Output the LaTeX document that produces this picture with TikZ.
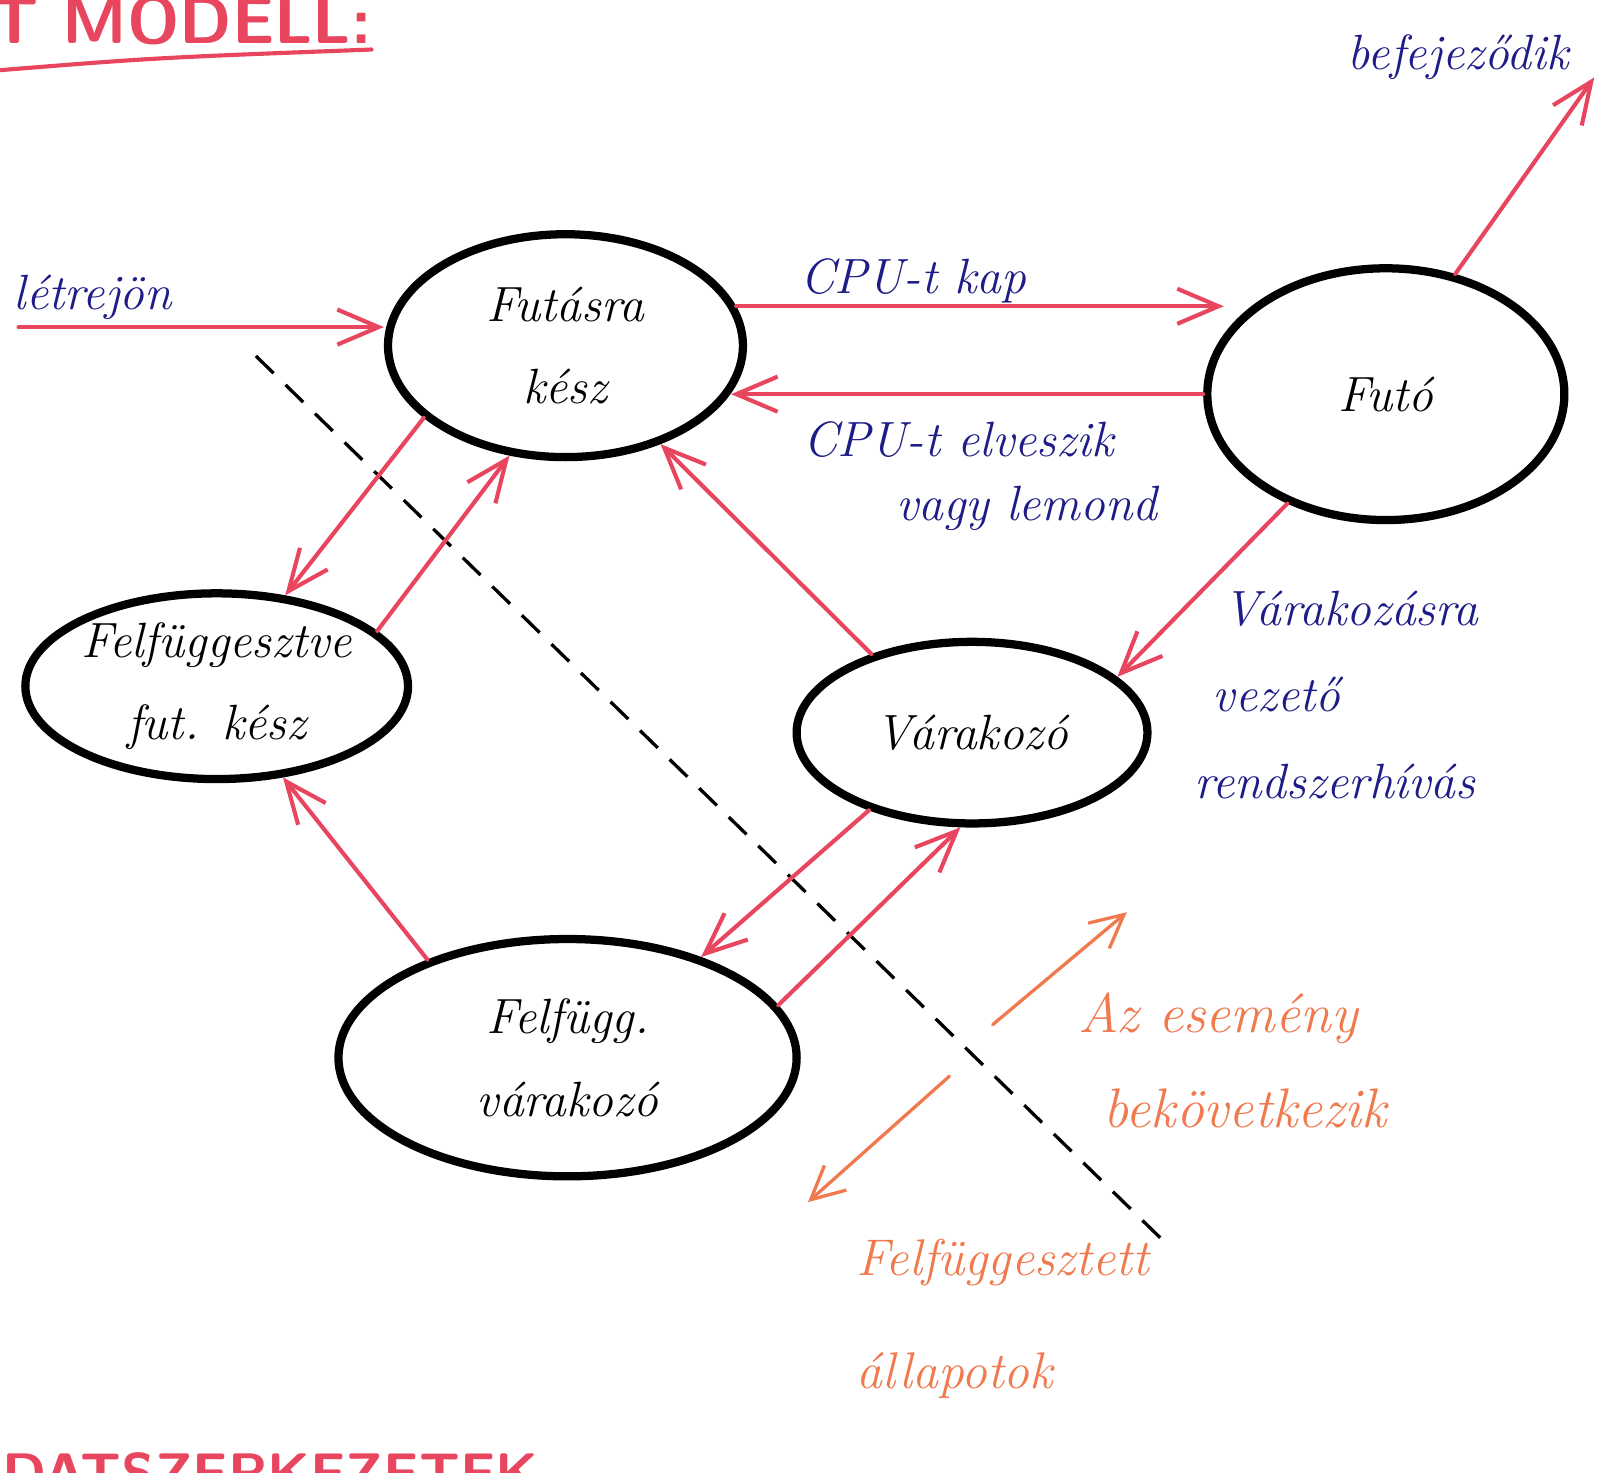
\documentclass[tikz,border=0pt]{standalone}
\usetikzlibrary{shapes.geometric,arrows.meta}
\definecolor{ink}{HTML}{E8465F}
\definecolor{navy}{HTML}{1E1C86}
\definecolor{peach}{HTML}{F07A4E}
\tikzset{
  state/.style={ellipse, draw=black, line width=4pt, inner sep=0pt, align=center,
    font=\fontsize{24}{40}\selectfont\itshape},
  arr/.style={draw=ink, line width=2pt, line cap=round,
    -{Straight Barb[length=20pt,width=17pt]}},
  note/.style={text=navy, inner sep=0pt, align=left,
    font=\fontsize{24}{40}\selectfont\itshape},
  remark/.style={text=peach, inner sep=0pt, align=left,
    font=\fontsize{26}{50}\selectfont\itshape},
  remarkarr/.style={draw=peach, line width=1.6pt, line cap=round,
    -{Straight Barb[length=16pt,width=16pt]}},
  heading/.style={text=ink, inner sep=0pt, font=\fontsize{32}{40}\selectfont\sffamily\bfseries},
  divider/.style={draw=black, line width=1.6pt, dash pattern=on 12pt off 8pt}
}
\begin{document}
\begin{tikzpicture}[x=0.5pt,y=-0.5pt]
\useasboundingbox (0,0) rectangle (1568,1427);

% section headings (the sheet is cropped through both of them)
\node[heading, anchor=base west] (head) at (-10,42) {T MODELL:};
\draw[ink, line width=2pt, line cap=round] (0,68) .. controls (150,56) .. (360,48);
\node[heading, anchor=base west, font=\fontsize{27}{34}\selectfont\sffamily\bfseries]
  (nexthead) at (-38,1446) {ADATSZERKEZETEK};

% states
\node[state, minimum width=172pt, minimum height=108pt] (ready) at (548,335) {Futásra\\kész};
\node[state, minimum width=173pt, minimum height=122pt] (running) at (1343,382) {Futó};
\node[state, minimum width=182pt, minimum height=90pt] (suspready) at (210,665)
  {\fontsize{24}{37}\selectfont Felfüggesztve\\fut. kész};
\node[state, minimum width=170pt, minimum height=88pt] (waiting) at (942,710) {Várakozó};
\node[state, minimum width=222pt, minimum height=115pt] (suspwait) at (550,1025)
  {\fontsize{24}{48}\selectfont Felfügg.\\várakozó};

% boundary of the suspended states
\coordinate (cutA) at (248,345);
\coordinate (cutB) at (1130,1205);
\draw[divider] (cutA) -- (cutB);

% transitions
\coordinate (born) at (18,317);
\coordinate (gone) at (1545,75);
\draw[arr] (born) -- (born -| ready.west);
\draw[arr, shorten >=-10pt] (ready.13) -- (ready.13 -| running.west);
\draw[arr] (running.west) -- (running.west -| ready.-16);
\draw[arr] (running.60) -- (gone);
\draw[arr] (running.-132) -- (waiting.21);
\draw[arr] (waiting.142) -- (ready.-46.5);
\draw[arr] (ready.-153) -- (suspready.53.5);
\draw[arr] (suspready.19.5) -- (ready.-117);
\draw[arr] (waiting.-143) -- (suspwait.37);
\draw[arr] (suspwait.14.7) -- (waiting.-97);
\draw[arr] (suspwait.145) -- (suspready.-54);

% transition labels
\node[note] (lborn) at (90,288) {létrejön};
\node[note] (lend) at (1413,55) {befejeződik};
\node[note] (lcpu) at (885,272) {CPU-t kap};
\node[note, anchor=north west, font=\fontsize{24}{31}\selectfont\itshape] (lpre) at (778,408)
  {CPU-t elveszik\\\hspace{45pt}vagy lemond};
\node[note, anchor=north west, font=\fontsize{24}{42}\selectfont\itshape] (lsys) at (1157,572)
  {\hspace{14pt}Várakozásra\\\hspace{9pt}vezető\\rendszerhívás};

% notes on the suspended states
\coordinate (evA) at (962,993);
\coordinate (evB) at (1092,884);
\draw[remarkarr] (evA) -- (evB);
\coordinate (spA) at (920,1043);
\coordinate (spB) at (783,1165);
\draw[remarkarr] (spA) -- (spB);
\node[remark, anchor=north west, font=\fontsize{27}{46}\selectfont\itshape] (lev) at (1045,962)
  {Az esemény\\\hspace{12pt}bekövetkezik};
\node[remark, anchor=north west, font=\fontsize{25}{55}\selectfont\itshape] (lsusp) at (830,1200)
  {Felfüggesztett\\állapotok};
\end{tikzpicture}
\end{document}
